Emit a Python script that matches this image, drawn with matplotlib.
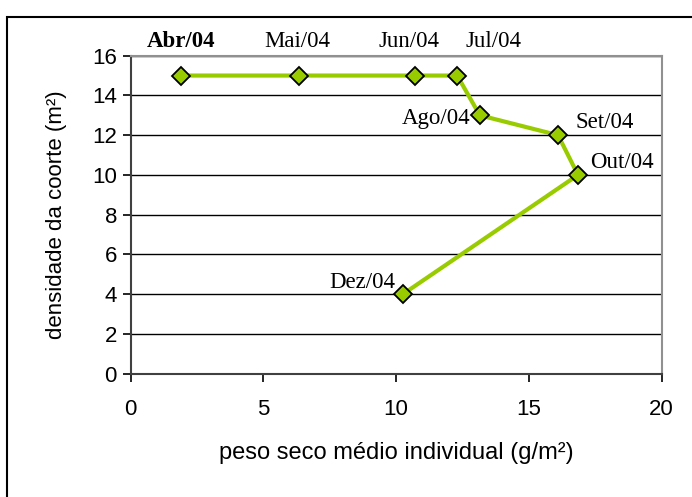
import matplotlib.pyplot as plt
from matplotlib.patches import Rectangle

# dados
peso = [1.9, 6.35, 10.7, 12.3, 13.15, 16.1, 16.85, 10.25]
densidade = [15, 15, 15, 15, 13, 12, 10, 4]
meses = ['Abr/04', 'Mai/04', 'Jun/04', 'Jul/04', 'Ago/04', 'Set/04', 'Out/04', 'Dez/04']

# posicao dos rotulos (offset em pixels, alinhamento)
offsets = [(0, 34, 'center'), (-2, 34, 'center'), (-6, 34, 'center'), (36, 34, 'center'),
           (-9, -3, 'right'), (17, 13, 'left'), (12, 12, 'left'), (-8, 12, 'right')]

verde = '#99CC00'

fig = plt.figure(figsize=(6.92, 4.97), dpi=100)
ax = fig.add_axes([0.189, 0.248, 0.767, 0.64])

ax.plot(peso, densidade, color=verde, linewidth=3, marker='D', markersize=9,
        markerfacecolor=verde, markeredgecolor='black', markeredgewidth=1.3, zorder=3)

for x, y, m, (dx, dy, ha) in zip(peso, densidade, meses, offsets):
    ax.annotate(m, (x, y), xytext=(dx, dy), textcoords='offset pixels', ha=ha, va='center',
                fontsize=16.5, family='Liberation Serif',
                fontweight='bold' if m == 'Abr/04' else 'normal', annotation_clip=False)

ax.set_xlim(0, 20)
ax.set_ylim(0, 16)
ax.set_xticks([0, 5, 10, 15, 20])
ax.set_yticks(range(0, 17, 2))
ax.grid(axis='y', color='black', linewidth=1)
ax.set_axisbelow(True)

for s in ['top', 'right']:
    ax.spines[s].set_color('#909090')
    ax.spines[s].set_linewidth(1.5)
for s in ['left', 'bottom']:
    ax.spines[s].set_color('#404040')
    ax.spines[s].set_linewidth(1.5)

ax.tick_params(direction='out', length=6, width=1.2, labelsize=16, pad=4)
ax.tick_params(axis='x', pad=12)
for lbl in ax.get_xticklabels() + ax.get_yticklabels():
    lbl.set_family('Liberation Sans')

ax.set_xlabel('peso seco médio individual (g/m²)', fontsize=17, family='Liberation Sans', labelpad=16)
ax.set_ylabel('densidade da coorte (m²)', fontsize=16, family='Liberation Sans', labelpad=18)

# moldura externa
fig.patches.append(Rectangle((7 / 692, -0.05), 1.1, 1 - 17 / 497 + 0.05, transform=fig.transFigure,
                             fill=False, edgecolor='black', linewidth=1.5))

fig.savefig('out.png', dpi=100)
